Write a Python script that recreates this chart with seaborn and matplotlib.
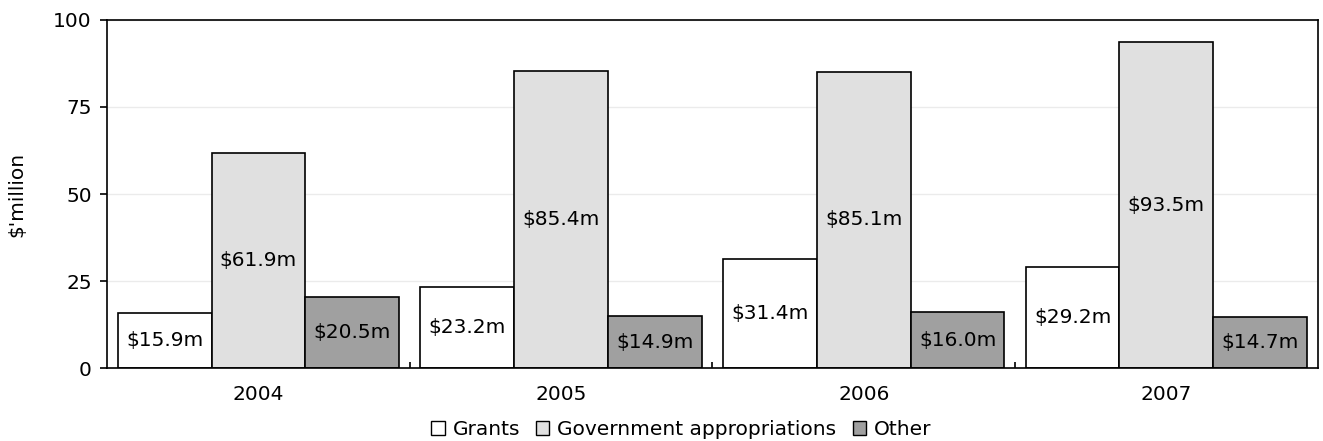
import matplotlib
matplotlib.use("Agg")
import matplotlib.pyplot as plt
import seaborn as sns
import pandas as pd
from matplotlib.patches import Patch

years = ["2004", "2005", "2006", "2007"]
series = ["Grants", "Government appropriations", "Other"]
grants = [15.9, 23.2, 31.4, 29.2]
gov = [61.9, 85.4, 85.1, 93.5]
other = [20.5, 14.9, 16.0, 14.7]
colors = ["#FFFFFF", "#E0E0E0", "#A0A0A0"]

rows = []
for name, vals in zip(series, [grants, gov, other]):
    for y, v in zip(years, vals):
        rows.append({"Year": y, "Series": name, "Value": v})
df = pd.DataFrame(rows)

sns.set_theme(style="white")
plt.rcParams['font.family'] = ['Verdana', 'DejaVu Sans']
plt.rcParams.update({"text.color": "black", "axes.labelcolor": "black",
                     "xtick.color": "black", "ytick.color": "black"})
FS = 14.5

fig, ax = plt.subplots(figsize=(13.23, 4.41), dpi=100)
sns.barplot(data=df, x="Year", y="Value", hue="Series", order=years, hue_order=series,
            palette=colors, edgecolor="black", linewidth=1.2, width=0.93, gap=0,
            saturation=1, ax=ax, legend=False)

for cont in ax.containers:
    for bar in cont:
        h = bar.get_height()
        ax.text(bar.get_x() + bar.get_width() / 2, h / 2, f"${h:.1f}m",
                ha="center", va="center", fontsize=FS, color="black")

ax.set_ylim(0, 100)
ax.set_xlim(-0.5, 3.5)
ax.set_yticks([0, 25, 50, 75, 100])
ax.yaxis.grid(True, color="#EBEBEB", linewidth=1)
ax.set_axisbelow(True)
for s in ax.spines.values():
    s.set_color("black")
    s.set_linewidth(1.2)
ax.tick_params(axis="y", direction="out", length=5, width=1.2, color="black",
               labelsize=FS, left=True, pad=6)
ax.tick_params(axis="x", length=0, labelsize=FS, pad=12)
ax.set_xticks([0.5, 1.5, 2.5], minor=True)
ax.tick_params(axis="x", which="minor", direction="in", length=4, width=1.2, color="black", bottom=True)
ax.set_xlabel("")
ax.set_ylabel("$'million", fontsize=FS, labelpad=19)

handles = [Patch(facecolor=c, edgecolor="black", linewidth=1) for c in colors]
fig.legend(handles, series, loc="lower center", ncol=3, frameon=False, fontsize=FS,
           handlelength=0.65, handleheight=0.65, handletextpad=0.4, columnspacing=0.8,
           bbox_to_anchor=(0.515, -0.037))

fig.subplots_adjust(left=0.081, right=0.996, top=0.955, bottom=0.165)
fig.savefig("out.png", dpi=100)
